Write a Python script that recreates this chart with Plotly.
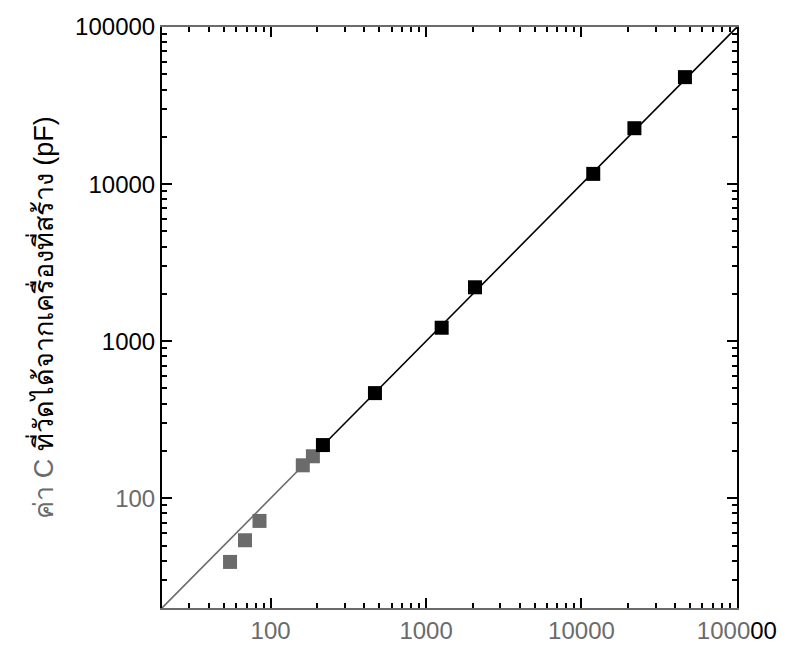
import math
import plotly.graph_objects as go

# ---- data ----
ref_pf = [54.8, 68.4, 84.8, 161, 187, 217, 469, 1260, 2064, 11900, 21900, 46300]
measured_pf = [39.3, 54.0, 71.7, 162, 185, 218, 467, 1218, 2204, 11620, 22700, 48000]
line_pf = [20, 100000]          # y = x reference line
split_pf = 215                  # where the scan turns from grey to black
tick_vals = [100, 1000, 10000, 100000]
tick_text = ["100", "1000", "10000", "100000"]
minor_vals = [m * 10 ** d for d in range(1, 5) for m in range(2, 10)]
y_title = "ค่า C ที่วัดได้จากเครื่องที่สร้าง (pF)"

GREY = "#6b6b6b"
BLACK = "#000000"
FONT = "Arial, Liberation Sans, Noto Sans, sans-serif"

marker_colors = [GREY if v < split_pf else BLACK for v in measured_pf]

fig = go.Figure()
fig.add_trace(go.Scatter(x=[line_pf[0], split_pf], y=[line_pf[0], split_pf], mode="lines",
                         line=dict(color=GREY, width=1.6), hoverinfo="skip", showlegend=False))
fig.add_trace(go.Scatter(x=[split_pf, line_pf[1]], y=[split_pf, line_pf[1]], mode="lines",
                         line=dict(color=BLACK, width=1.6), hoverinfo="skip", showlegend=False))
fig.add_trace(go.Scatter(x=ref_pf, y=measured_pf, mode="markers",
                         marker=dict(symbol="square", size=14, color=marker_colors, line=dict(width=0)),
                         showlegend=False))

x_text = [f"<span style='color:{GREY}'>{t}</span>" for t in tick_text]
x_text[-1] = f"<span style='color:{GREY}'>1000</span><span style='color:{BLACK}'>00</span>"
y_text = [f"<span style='color:{GREY}'>100</span>", "1000", "10000", "100000"]
title_html = f"<span style='color:{GREY}'>{y_title[:5]}</span>{y_title[5:]}"

common = dict(type="log", showgrid=False, zeroline=False, showline=True, linewidth=2,
              mirror="ticks", ticks="inside", ticklen=10, tickwidth=2, automargin=False,
              tickmode="array", tickvals=tick_vals,
              minor=dict(tickmode="array", tickvals=minor_vals, ticks="inside", ticklen=5,
                         tickwidth=1.5, showgrid=False),
              range=[math.log10(20), 5.0005])

fig.update_xaxes(**common, ticktext=x_text, linecolor=GREY, tickcolor=BLACK,
                 tickfont=dict(family=FONT, size=24, color=GREY))
fig.update_yaxes(**common, ticktext=y_text, linecolor=BLACK, tickcolor=BLACK,
                 tickfont=dict(family=FONT, size=24, color=BLACK),
                 title=dict(text=title_html,
                            font=dict(family=FONT, size=27, color=BLACK), standoff=14))

# grey lower part of the left / right frame (scan artefact)
for xp in (0, 1):
    fig.add_shape(type="line", xref="paper", yref="y", x0=xp, x1=xp,
                  y0=math.log10(20), y1=math.log10(split_pf),
                  line=dict(color=GREY, width=2), layer="above")

# page body has an 8 px margin, so the figure is shrunk/shifted to fit the window
fig.update_layout(width=781, height=641, margin=dict(l=154, r=52, t=19, b=41),
                  plot_bgcolor="white", paper_bgcolor="white",
                  font=dict(family=FONT, size=24))

fig.write_html("out.html")
